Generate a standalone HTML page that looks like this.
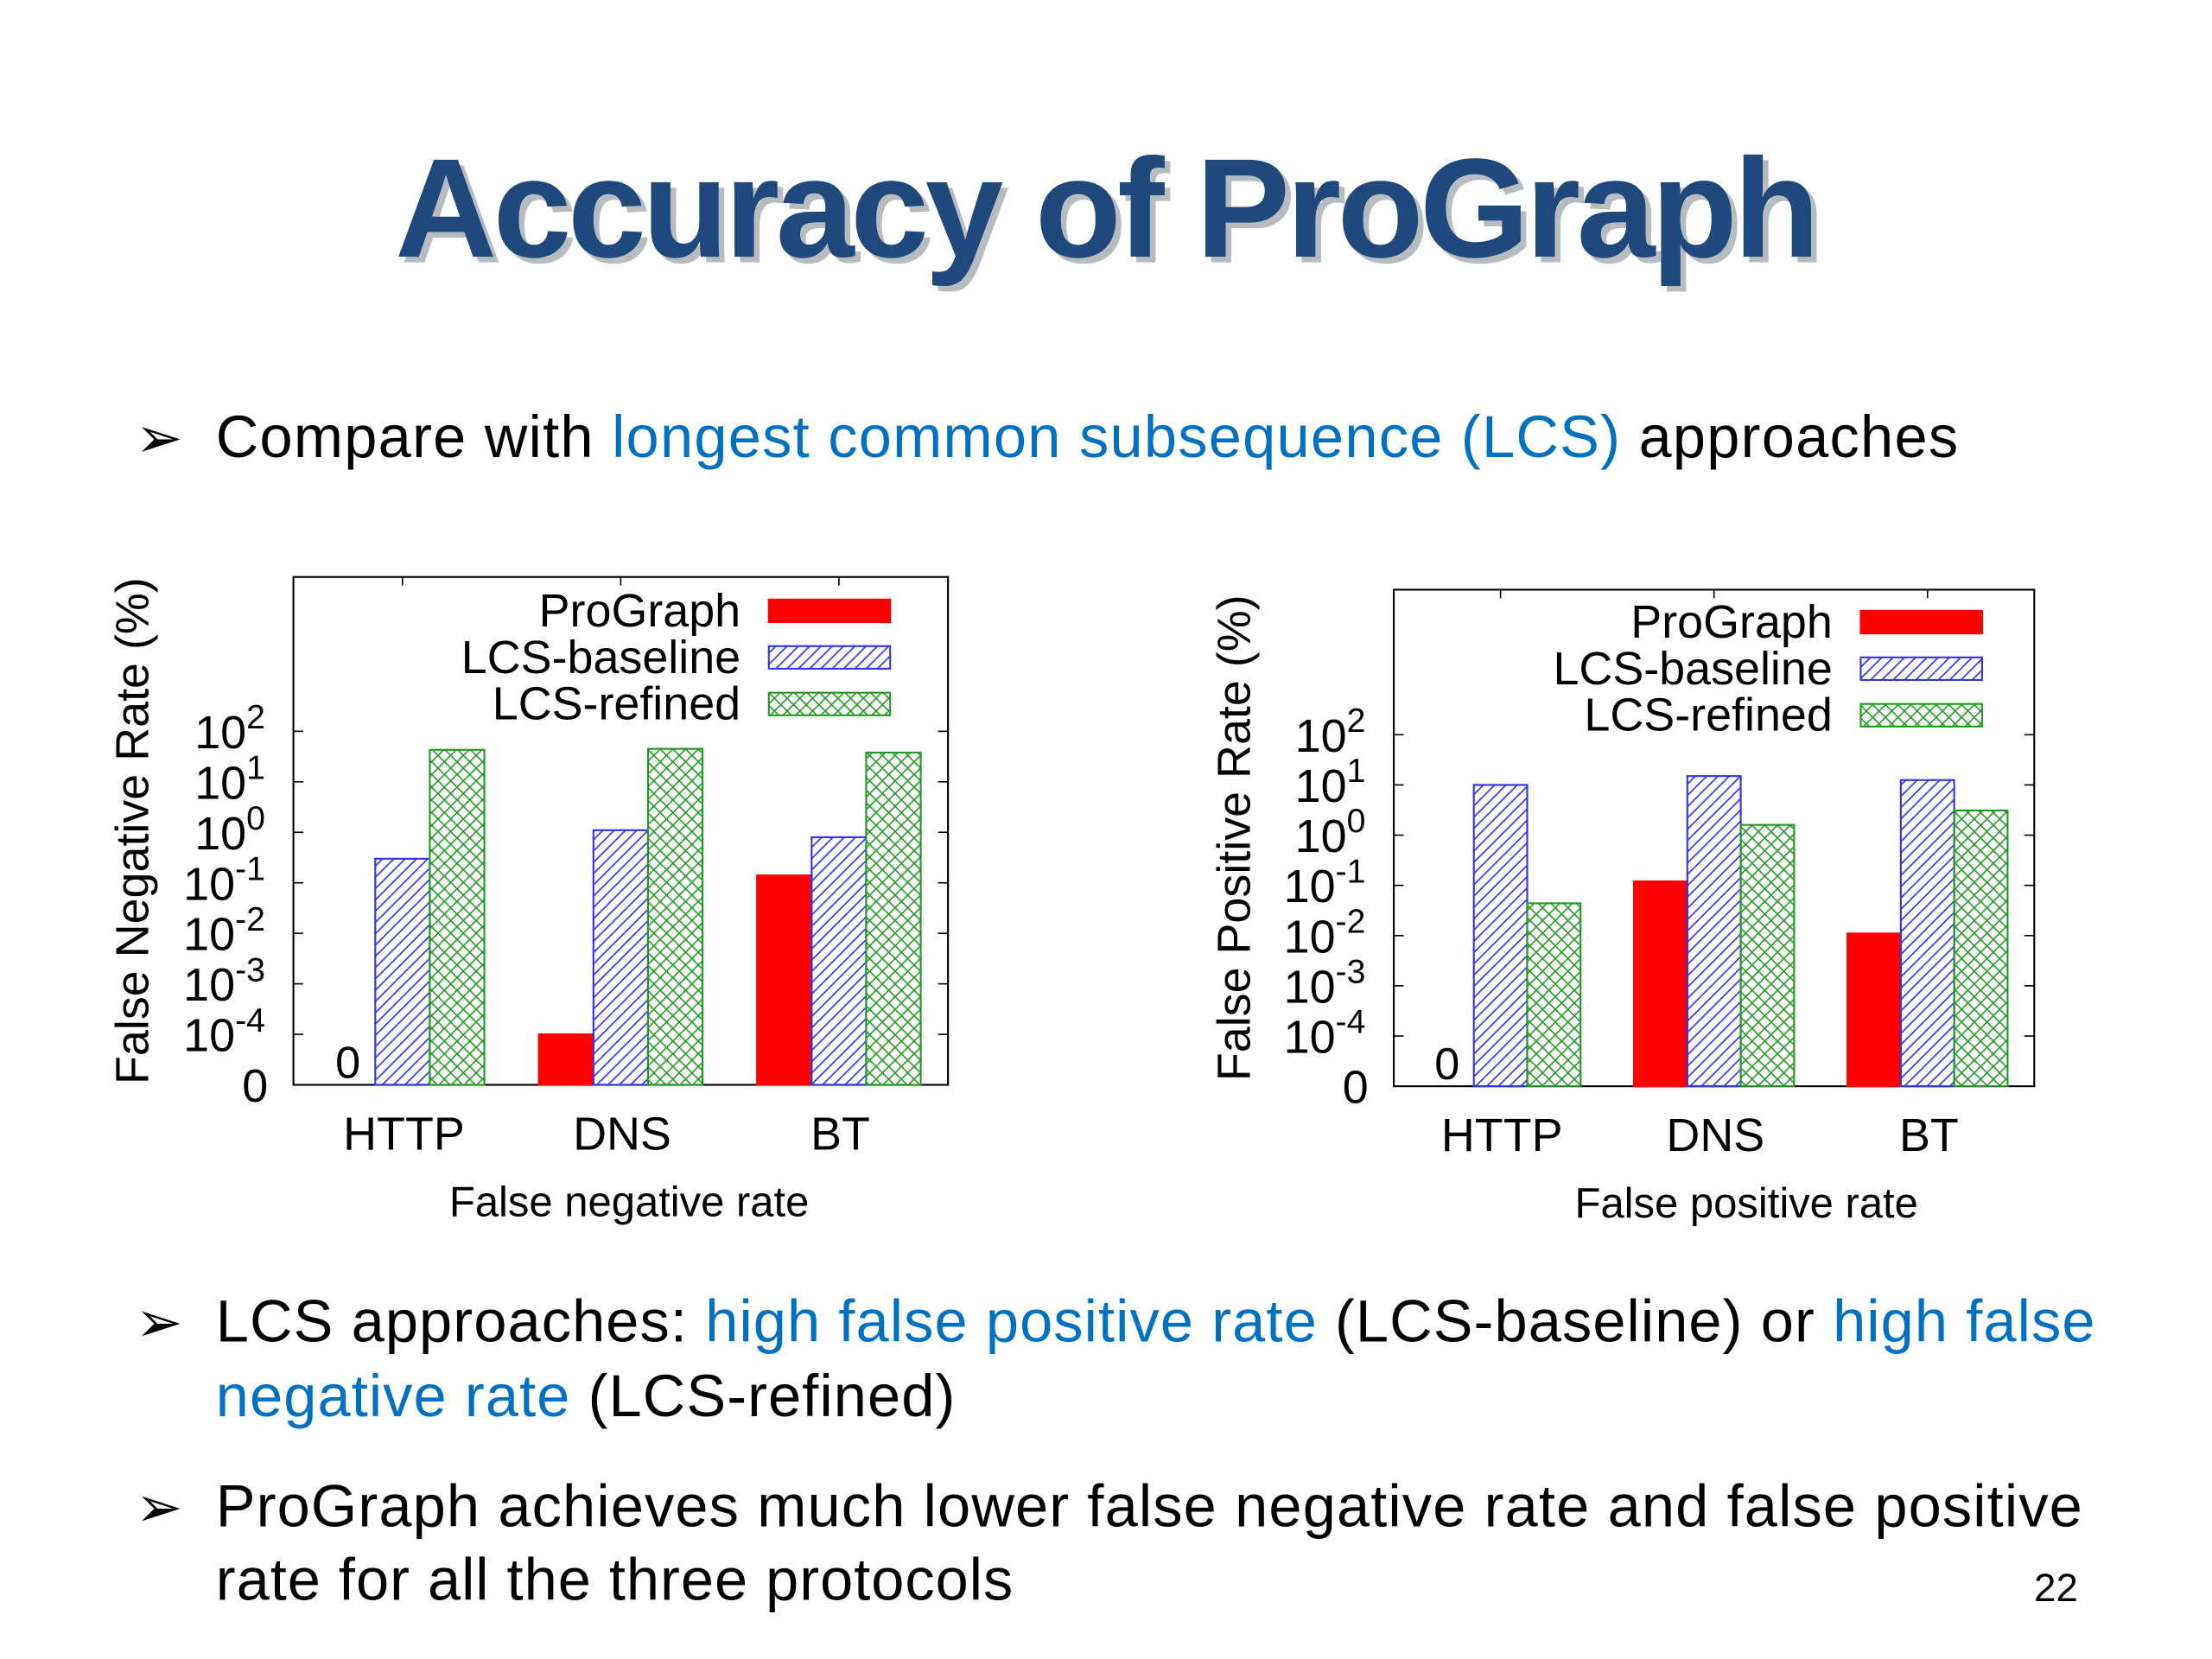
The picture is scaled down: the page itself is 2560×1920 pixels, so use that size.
<!DOCTYPE html>
<html><head><meta charset="utf-8">
<style>
html,body{margin:0;padding:0;background:#fff;}
svg{display:block;}
text{font-family:"Liberation Sans",Arial,sans-serif;}
</style></head>
<body>
<svg id="slide" width="2560" height="1920" viewBox="0 0 1568 1176" xmlns="http://www.w3.org/2000/svg">
<defs>
  <pattern id="hatchBlue" patternUnits="userSpaceOnUse" width="8" height="8">
    <path d="M-2,10 L10,-2 M-2,2 L2,-2 M6,10 L10,6" stroke="#3333ee" stroke-width="1"/>
  </pattern>
  <pattern id="hatchGreen" patternUnits="userSpaceOnUse" width="9" height="9">
    <path d="M0,0 L9,9 M0,9 L9,0" stroke="#229922" stroke-width="1"/>
  </pattern>
</defs>
<rect width="1568" height="1176" fill="#fff"/>
<text x="789" y="186" text-anchor="middle" font-size="100" font-weight="bold" fill="#9aa0a8" textLength="1010" opacity="0.7">Accuracy of ProGraph</text>
<text x="785" y="182" text-anchor="middle" font-size="100" font-weight="bold" fill="#1f497d" textLength="1010">Accuracy of ProGraph</text>

<text x="96" y="324" font-size="40" fill="#000">➢</text>
<text x="153" y="324" font-size="42" fill="#000" textLength="1235">Compare with <tspan fill="#0070c0">longest common subsequence (LCS)</tspan> approaches</text>

<g id="chart1"></g>
<g id="chart2"></g>

<text x="96" y="951" font-size="40" fill="#000">➢</text>
<text x="153" y="951" font-size="42" fill="#000" textLength="1332">LCS approaches: <tspan fill="#0070c0">high false positive rate</tspan> (LCS-baseline) or <tspan fill="#0070c0">high false</tspan></text>
<text x="153" y="1004" font-size="42" fill="#000" textLength="524"><tspan fill="#0070c0">negative rate</tspan> (LCS-refined)</text>
<text x="96" y="1082" font-size="40" fill="#000">➢</text>
<text x="153" y="1082" font-size="42" fill="#000" textLength="1323">ProGraph achieves much lower false negative rate and false positive</text>
<text x="153" y="1134" font-size="42" fill="#000" textLength="565">rate for all the three protocols</text>
<text x="1473" y="1135" text-anchor="end" font-size="28" fill="#000">22</text>
</svg>
<script>
const categories = ["HTTP","DNS","BT"];
const seriesNames = ["ProGraph","LCS-baseline","LCS-refined"];
const fnProGraph = [0, 0.0001, 0.14];
const fnBaseline = [0.3, 1.1, 0.8];
const fnRefined = [43, 45, 38];
const fpProGraph = [0, 0.12, 0.011];
const fpBaseline = [10, 15, 12.5];
const fpRefined = [0.044, 1.6, 3.1];
const tickExps = [-4,-3,-2,-1,0,1,2];

const NS = "http://www.w3.org/2000/svg";
function mk(parent, tag, attrs, text){
  const e = document.createElementNS(NS, tag);
  for (const k in attrs) e.setAttribute(k, attrs[k]);
  if (text !== undefined) e.textContent = text;
  parent.appendChild(e);
  return e;
}
function drawChart(g, cfg, series){
  const L=cfg.left, R=cfg.right, T=cfg.top, B=cfg.bottom;
  const dec = cfg.decade;
  const yScale = v => v <= 0 ? B : B - (Math.log10(v) + 5) * dec;
  const groupW = (R - L) / categories.length;
  const barW = groupW / 4;
  const xBar = (ci, si) => L + ci*groupW + groupW*0.5 - 1.5*barW + si*barW;
  const frame = mk(g, "rect", {x:L, y:T, width:R-L, height:B-T, fill:"none", stroke:"#000", "stroke-width":1.3});
  
  
  const z = mk(g, "text", {x:L-18, y:B+12, "text-anchor":"end", "font-size":33}, "0");
  
  
  tickExps.forEach(ex => {
    const y = yScale(Math.pow(10, ex));
    mk(g, "line", {x1:L, x2:L+7, y1:y, y2:y, stroke:"#000"});
    mk(g, "line", {x1:R, x2:R-7, y1:y, y2:y, stroke:"#000"});
    const t = mk(g, "text", {x:L-20, y:y+12, "text-anchor":"end", "font-size":33});
    
    
    const base = document.createElementNS(NS, "tspan"); base.textContent = "10"; t.appendChild(base);
    const sup = document.createElementNS(NS, "tspan");
    sup.setAttribute("dy", "-14"); sup.setAttribute("font-size", "24"); sup.textContent = String(ex);
    t.appendChild(sup);
  });
  categories.forEach((c, ci) => {
    const cx = L + ci*groupW + groupW*0.5;
    mk(g, "line", {x1:cx, x2:cx, y1:T, y2:T+6, stroke:"#000"});
    const t = mk(g, "text", {x:cx+1, y:B+46, "text-anchor":"middle", "font-size":33}, c);
    
    
  });
  const fills = [{fill:"#ff0000", stroke:"#ff0000"},{fill:"url(#hatchBlue)", stroke:"#3333ee"},{fill:"url(#hatchGreen)", stroke:"#229922"}];
  series.forEach((vals, si) => {
    vals.forEach((v, ci) => {
      const x = xBar(ci, si);
      if (v <= 0) {
        const t = mk(g, "text", {x:x+barW/2, y:B-5, "text-anchor":"middle", "font-size":32}, "0");
        
        
        return;
      }
      const y = yScale(v);
      const r = mk(g, "rect", {x:x, y:y, width:barW, height:B-y, fill:fills[si].fill, stroke:fills[si].stroke, "stroke-width":1.3});
      
      
    });
  });
  seriesNames.forEach((n, si) => {
    const ly = cfg.legendY + si*33;
    const t = mk(g, "text", {x:cfg.legendTextX, y:ly+12, "text-anchor":"end", "font-size":33}, n);
    
    
    const s = mk(g, "rect", {x:cfg.legendTextX+20, y:ly-7, width:86, height:16, fill:fills[si].fill, stroke:fills[si].stroke, "stroke-width":1.3});
    
    
  });
  const yt = mk(g, "text", {x:0, y:0, "text-anchor":"middle", "font-size":33, transform:"translate("+cfg.yTitleX+","+((T+B)/2)+") rotate(-90)"}, cfg.yTitle);
  
  
  const xt = mk(g, "text", {x:cfg.xTitleX, y:B+93, "text-anchor":"middle", "font-size":30}, cfg.xTitle);
  
  
}
drawChart(document.getElementById("chart1"),
  {left:208, right:672, top:409, bottom:769, decade:35.8, legendTextX:525, legendY:432, yTitleX:105, yTitle:"False Negative Rate (%)", xTitle:"False negative rate", xTitleX:446},
  [fnProGraph, fnBaseline, fnRefined]);
drawChart(document.getElementById("chart2"),
  {left:988, right:1442, top:418, bottom:770, decade:35.6, legendTextX:1299, legendY:440, yTitleX:886, yTitle:"False Positive Rate (%)", xTitle:"False positive rate", xTitleX:1238},
  [fpProGraph, fpBaseline, fpRefined]);
</script>
</body></html>
